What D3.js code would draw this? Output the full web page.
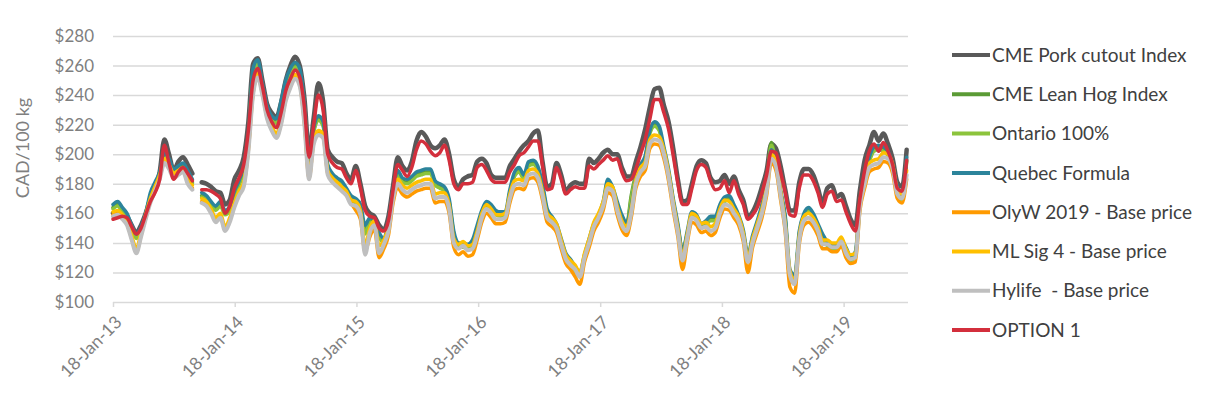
<!DOCTYPE html>
<html>
<head>
<meta charset="utf-8">
<script src="https://cdn.jsdelivr.net/npm/d3@7"></script>
<style>
  html, body { margin: 0; padding: 0; background: #fff; }
  svg { display: block; font-family: Lato, "Liberation Sans", sans-serif; }
</style>
</head>
<body>
<div id="chart"></div>
<script>
// Biweekly observations, first one on 18-Jan-13 (null = missing week)
const firstWeek = "2013-01-18";
const weekStep = 2;

const yTicks = [100, 120, 140, 160, 180, 200, 220, 240, 260, 280];
const xTickDates = ["2013-01-18", "2014-01-18", "2015-01-18", "2016-01-18", "2017-01-18", "2018-01-18", "2019-01-18"];
const xTickLabels = ["18-Jan-13", "18-Jan-14", "18-Jan-15", "18-Jan-16", "18-Jan-17", "18-Jan-18", "18-Jan-19"];

const seriesNames = ["CME Pork cutout Index", "CME Lean Hog Index", "Ontario 100%", "Quebec Formula",
	"OlyW 2019 - Base price", "ML Sig 4 - Base price", "Hylife  - Base price", "OPTION 1"];
const seriesColors = ["#595959", "#5b9b35", "#8cc43c", "#2c849b", "#ff9a00", "#ffc000", "#bfbfbf", "#d32f3c"];

const porkCutout = [160,161,161,158,152,147,152,160,170,177,
	188,210,200,189,195,198,193,187,null,181,
	180,178,175,174,166,169,183,189,198,222,
	261,265,250,234,228,225,235,250,260,266,
	260,238,202,225,248,236,203,198,195,194,
	187,183,192,180,165,160,158,152,149,158,
	179,198,192,189,195,209,215,212,206,204,
	206,210,200,183,178,183,185,186,195,197,
	194,186,184,184,184,192,197,202,206,209,
	214,216,195,178,180,194,186,175,179,181,
	180,180,197,194,197,201,203,200,200,191,
	185,185,195,205,217,232,244,245,233,222,
	204,183,168,169,180,192,196,194,184,181,
	182,186,180,185,176,169,158,161,168,178,
	189,207,204,192,176,162,162,181,190,190,
	186,177,167,177,179,171,173,165,156,152,
	176,196,206,215,209,214,207,197,181,178,203];

const leanHog = [164,166,162,158,150,144,149,158,172,179,
	186,199,195,188,190,192,187,181,null,172,
	170,166,163,166,160,163,173,180,190,212,
	256,262,246,231,224,222,234,248,256,260,
	256,232,194,216,224,220,191,185,182,180,
	175,170,168,164,148,155,153,145,141,153,
	174,187,182,181,183,186,187,188,188,180,
	178,176,168,146,138,138,137,140,150,160,
	166,164,160,159,159,174,186,189,184,193,
	194,190,178,161,156,151,141,131,127,122,
	118,130,141,151,157,166,181,176,166,157,
	152,172,186,191,197,216,220,217,203,188,
	168,151,135,146,159,157,151,153,156,156,
	164,169,170,164,157,147,130,143,153,164,
	180,208,194,174,156,115,113,146,158,162,
	158,151,144,139,137,137,140,135,129,132,
	166,184,196,203,204,203,200,191,176,170,196];

const ontario = [163,165,161,157,149,143,148,157,171,178,
	185,198,194,187,189,191,186,180,null,171,
	169,165,162,165,159,162,172,179,189,211,
	255,261,245,230,223,221,233,247,255,259,
	255,231,193,215,223,219,190,184,181,179,
	174,169,167,163,146,154,152,144,140,152,
	173,186,181,180,182,185,186,187,187,179,
	177,175,167,145,137,137,136,139,149,159,
	165,163,159,158,158,173,185,188,183,192,
	193,189,177,160,155,150,140,130,126,121,
	117,129,140,150,156,165,180,175,165,156,
	151,170,185,190,196,214,219,216,202,187,
	167,150,133,145,158,156,150,152,155,155,
	163,168,169,163,156,146,129,142,152,163,
	178,206,193,173,155,116,114,145,157,161,
	157,150,143,138,136,136,139,134,128,131,
	165,183,195,202,203,202,199,190,175,169,195];

const quebec = [166,168,164,160,152,146,151,160,174,181,
	188,201,197,190,192,194,189,183,null,174,
	172,168,165,168,162,165,175,182,192,214,
	258,264,248,233,226,224,236,250,258,262,
	258,234,196,218,226,222,193,187,184,182,
	177,172,170,166,152,157,155,147,143,155,
	176,189,184,183,185,188,189,190,190,182,
	180,178,170,148,140,140,139,142,152,162,
	168,166,162,161,161,176,188,191,186,195,
	196,192,180,163,158,153,143,133,129,124,
	120,132,143,153,159,168,183,178,168,159,
	154,165,184,193,199,216,222,219,205,190,
	170,153,134,148,161,159,153,155,158,158,
	166,171,172,166,159,149,132,145,155,166,
	180,203,196,176,158,122,118,148,160,164,
	160,153,146,141,139,139,142,137,131,134,
	168,186,198,205,206,205,202,193,178,172,198];

const olyw = [159,160,157,153,143,134,145,157,168,176,
	184,195,191,185,187,189,181,177,null,168,
	166,161,155,158,149,155,165,173,179,203,
	241,253,241,225,217,212,221,237,246,252,
	247,221,184,208,214,212,187,182,179,176,
	173,167,162,156,134,144,149,130,136,145,
	167,177,173,171,173,175,176,177,177,167,
	168,168,160,137,132,134,131,132,142,154,
	160,157,153,153,154,167,176,177,176,183,
	184,181,169,154,151,147,136,126,122,117,
	112,127,137,148,154,162,174,172,159,149,
	145,157,177,185,189,204,207,206,197,182,
	162,144,122,140,154,152,147,148,145,147,
	157,163,162,157,152,141,120,137,147,157,
	172,194,189,169,147,110,106,139,152,154,
	151,145,136,136,134,134,138,130,126,127,
	162,177,188,190,191,195,194,187,170,167,183];

const mlSig4 = [161,162,159,155,145,136,147,159,170,178,
	186,197,193,187,189,191,183,179,null,170,
	168,163,157,160,151,157,167,175,181,205,
	243,255,243,227,219,214,223,239,248,254,
	249,223,186,210,216,214,189,184,181,178,
	175,169,168,162,138,150,155,138,142,151,
	173,183,179,177,179,181,182,183,183,173,
	174,174,166,143,139,141,138,139,148,160,
	166,163,159,159,160,173,182,183,182,189,
	190,187,175,160,157,153,142,132,128,125,
	120,133,143,154,160,168,180,178,165,155,
	151,163,183,191,195,210,213,212,203,188,
	168,150,131,146,160,158,153,154,151,153,
	163,169,168,163,158,147,130,143,153,163,
	178,200,195,175,153,121,115,145,158,160,
	157,151,142,142,140,140,144,136,132,133,
	168,183,194,196,197,201,200,193,176,173,189];

const hylife = [158,159,156,152,142,133,144,156,167,175,
	183,194,190,184,186,188,180,176,null,167,
	165,160,154,157,148,154,164,172,178,202,
	240,252,240,224,216,211,220,236,245,251,
	246,220,183,207,213,211,186,181,178,175,
	172,166,165,159,132,147,152,133,139,148,
	170,180,176,174,176,178,179,180,180,170,
	171,171,163,140,136,138,135,136,145,157,
	163,160,156,156,157,170,179,180,179,186,
	187,184,172,157,154,150,139,129,125,122,
	117,130,140,151,157,165,177,175,162,152,
	148,160,180,188,192,207,210,209,200,185,
	165,147,128,143,157,155,150,151,148,150,
	160,166,165,160,155,144,127,140,150,160,
	175,197,192,172,150,118,112,142,155,157,
	154,148,139,139,137,137,141,133,129,130,
	165,180,191,193,194,198,197,190,173,170,186];

const option1 = [156,157,158,157,151,146,150,159,168,174,
	183,206,194,183,188,191,187,182,null,176,
	176,175,173,170,160,165,177,184,193,216,
	250,258,246,230,222,218,228,243,251,257,
	252,232,198,220,240,230,200,194,191,190,
	184,180,189,177,162,158,157,150,148,155,
	176,193,189,185,191,203,209,207,202,199,
	201,206,196,180,176,180,180,181,191,193,
	189,183,181,181,181,188,193,199,201,205,
	209,209,192,176,177,191,183,173,176,178,
	177,177,192,190,193,196,199,196,197,188,
	182,183,190,200,210,224,237,237,228,217,
	199,180,166,166,177,189,193,191,182,176,
	177,182,174,182,173,166,156,159,164,174,
	186,202,201,188,174,159,158,177,186,186,
	182,174,164,173,175,168,169,161,153,148,
	170,189,202,207,202,208,202,193,177,175,196];

const seriesValues = [porkCutout, leanHog, ontario, quebec, olyw, mlSig4, hylife, option1];
const seriesWidths = [4.5, 3.5, 3.5, 3.5, 3.5, 3.5, 4, 3.5];

function drawChart() {
	const width = 1230;
	const height = 397;
	const plot = { left: 113, right: 908, top: 36, bottom: 302 };

	const svg = d3.select("#chart")
		.append("svg")
		.attr("width", width)
		.attr("height", height);

	const start = new Date(firstWeek + "T00:00:00Z");
	const dates = d3.utcFriday.range(start, d3.utcDay.offset(start, 7 * weekStep * (porkCutout.length - 1) + 1), weekStep);

	const x = d3.scaleUtc()
		.domain([dates[0], dates[dates.length - 1]])
		.range([plot.left, plot.left + (dates[dates.length - 1] - dates[0]) / 864e5 * 121.8 / 365.25]);

	const y = d3.scaleLinear()
		.domain([100, 280])
		.range([plot.bottom, plot.top]);

	// gridlines + y labels
	const yAxis = svg.append("g")
		.attr("transform", `translate(${plot.left},0)`)
		.call(d3.axisLeft(y)
			.tickValues(yTicks)
			.tickSize(-(plot.right - plot.left))
			.tickPadding(19)
			.tickFormat(d => "$" + d));
	yAxis.select(".domain").remove();
	yAxis.selectAll(".tick line")
		.attr("stroke", "#d9d9d9")
		.attr("stroke-width", 1.5);
	yAxis.selectAll(".tick text")
		.attr("fill", "#7f7f7f")
		.style("font-size", "17px")
		.style("font-family", "Lato, sans-serif");

	// x axis ticks and rotated labels
	const xTicks = xTickDates.map(d => new Date(d + "T00:00:00Z"));
	const xAxis = svg.append("g")
		.attr("transform", `translate(0,${plot.bottom})`)
		.call(d3.axisBottom(x)
			.tickValues(xTicks)
			.tickSize(5)
			.tickFormat((d, i) => xTickLabels[i]));
	xAxis.select(".domain").remove();
	xAxis.selectAll(".tick line")
		.attr("stroke", "#d9d9d9")
		.attr("stroke-width", 1.5);
	xAxis.selectAll(".tick text")
		.attr("fill", "#7f7f7f")
		.attr("x", 0)
		.attr("y", 0)
		.attr("dy", "0.35em")
		.attr("text-anchor", "end")
		.attr("transform", "translate(5,17) rotate(-45)")
		.style("font-size", "17.5px")
		.style("font-family", "Lato, sans-serif");

	// y title
	svg.append("text")
		.attr("transform", "translate(23,148) rotate(-90)")
		.attr("text-anchor", "middle")
		.attr("dy", "0.35em")
		.attr("fill", "#7f7f7f")
		.style("font-size", "18px")
		.text("CAD/100 kg");

	const line = d3.line()
		.defined(d => d[1] != null)
		.x(d => x(d[0]))
		.y(d => y(d[1]))
		.curve(d3.curveMonotoneX);

	seriesValues.forEach((vals, k) => {
		svg.append("path")
			.datum(vals.map((v, i) => [dates[i], v]))
			.attr("fill", "none")
			.attr("stroke", seriesColors[k])
			.attr("stroke-width", seriesWidths[k])
			.attr("stroke-linejoin", "round")
			.attr("stroke-linecap", "round")
			.attr("d", line);
	});

	// legend
	const legend = svg.append("g")
		.attr("transform", "translate(952,55)");

	const rows = legend.selectAll("g")
		.data(seriesNames)
		.enter().append("g")
		.attr("transform", (d, i) => `translate(0,${i * 39.3})`);

	rows.append("line")
		.attr("x1", 0)
		.attr("x2", 38)
		.attr("stroke", (d, i) => seriesColors[i])
		.attr("stroke-width", 4);

	rows.append("text")
		.attr("x", 40)
		.attr("dy", "0.35em")
		.attr("fill", "#404040")
		.style("font-size", "19px")
		.style("white-space", "pre")
		.text(d => d);
}

window.addEventListener('load', drawChart);
</script>
</body>
</html>
